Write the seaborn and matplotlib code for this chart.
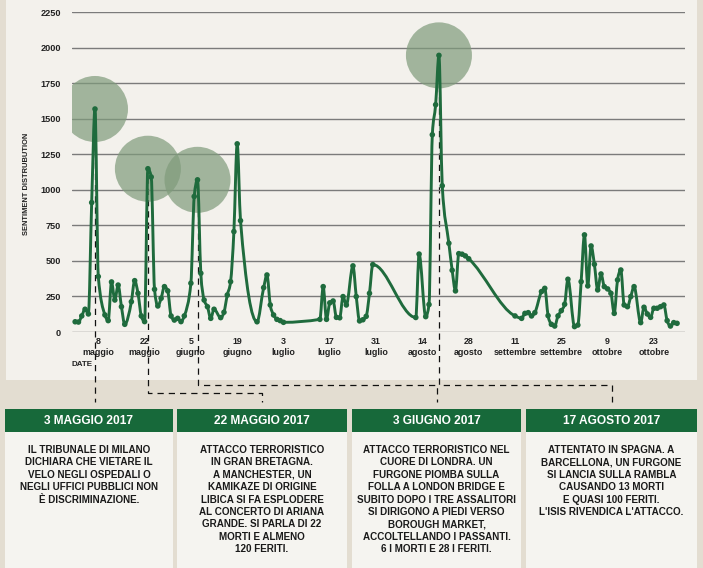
import matplotlib
matplotlib.use('Agg')
import matplotlib.pyplot as plt
import matplotlib.dates as mdates
from matplotlib.path import Path
from matplotlib.patches import PathPatch, Rectangle
import seaborn as sns
import pandas as pd
import numpy as np

# dati: giorni dal 1 maggio 2017 e valore del sentiment
start = pd.Timestamp('2017-05-01')
day_offsets = [0, 1, 2, 3, 4, 5, 6, 7, 9, 10, 11, 12, 13, 14, 15, 17, 18, 19, 20, 21,
               22, 23, 24, 25, 26, 27, 28, 29, 30, 31, 32, 33, 35, 36, 37, 38, 39, 40, 41, 42,
               44, 45, 46, 47, 48, 49, 50, 55, 57, 58, 59, 60, 61, 62, 63,
               74, 75, 76, 77, 78, 79, 80, 81, 82, 84, 85, 86, 87, 88, 89, 90,
               103, 104, 106, 107, 108, 109, 110, 111, 113, 114, 115, 116, 117, 118, 119,
               133, 135, 136, 137, 138, 139, 141, 142, 143, 144, 145, 146, 147, 148, 149,
               151, 152, 153, 154, 155, 156, 157, 158, 159, 160, 161, 162, 163, 164, 165,
               166, 167, 168, 169, 171, 172, 173, 174, 175, 176, 177, 178, 179, 180, 181, 182]
sentiment = [72, 70, 113, 160, 127, 910, 1568, 390, 120, 80, 352, 225, 330, 178, 54, 213, 361, 272, 113, 73,
             1148, 1090, 300, 183, 237, 319, 289, 113, 84, 96, 73, 113, 343, 953, 1070, 413, 225, 178, 96, 160,
             101, 139, 260, 354, 706, 1323, 783, 72, 312, 401, 190, 120, 89, 80, 68,
             89, 319, 89, 205, 218, 103, 100, 249, 190, 465, 249, 78, 86, 110, 272, 474,
             102, 548, 108, 193, 1387, 1598, 1945, 1028, 624, 434, 289, 551, 547, 535, 515,
             113, 96, 131, 136, 113, 136, 284, 307, 115, 54, 42, 113, 150, 195, 371,
             38, 49, 354, 683, 324, 605, 476, 296, 408, 319, 303, 272, 131, 366, 436,
             190, 178, 249, 319, 66, 174, 127, 103, 167, 167, 178, 190, 80, 42, 66, 61]

tick_days = [7, 21, 35, 49, 63, 77, 91, 105, 119, 133, 147, 161, 175]
tick_labels = ['8\nmaggio', '22\nmaggio', '5\ngiugno', '19\ngiugno', '3\nluglio', '17\nluglio',
               '31\nluglio', '14\nagosto', '28\nagosto', '11\nsettembre', '25\nsettembre',
               '9\nottobre', '23\nottobre']
y_ticks = [0, 250, 500, 750, 1000, 1250, 1500, 1750, 2000, 2250]

peak_days = [6, 22, 37, 110]
event_titles = ['3 MAGGIO 2017', '22 MAGGIO 2017', '3 GIUGNO 2017', '17 AGOSTO 2017']
event_texts = [
    'IL TRIBUNALE DI MILANO\nDICHIARA CHE VIETARE IL\nVELO NEGLI OSPEDALI O\n'
    'NEGLI UFFICI PUBBLICI NON\nÈ DISCRIMINAZIONE.',
    'ATTACCO TERRORISTICO\nIN GRAN BRETAGNA.\nA MANCHESTER, UN\nKAMIKAZE DI ORIGINE\n'
    'LIBICA SI FA ESPLODERE\nAL CONCERTO DI ARIANA\nGRANDE. SI PARLA DI 22\nMORTI E ALMENO\n120 FERITI.',
    'ATTACCO TERRORISTICO NEL\nCUORE DI LONDRA. UN\nFURGONE PIOMBA SULLA\nFOLLA A LONDON BRIDGE E\n'
    'SUBITO DOPO I TRE ASSALITORI\nSI DIRIGONO A PIEDI VERSO\nBOROUGH MARKET,\n'
    'ACCOLTELLANDO I PASSANTI.\n6 I MORTI E 28 I FERITI.',
    'ATTENTATO IN SPAGNA. A\nBARCELLONA, UN FURGONE\nSI LANCIA SULLA RAMBLA\nCAUSANDO 13 MORTI\n'
    'E QUASI 100 FERITI.\nL\'ISIS RIVENDICA L\'ATTACCO.',
]

GREEN = '#1f6b3d'
INK = '#222222'

sns.set_theme(style='white')
plt.rcParams['font.family'] = ['Liberation Sans', 'DejaVu Sans']

df = pd.DataFrame({'date': start + pd.to_timedelta(day_offsets, unit='D'), 'sentiment': sentiment})
peaks = df[df['date'].isin(start + pd.to_timedelta(peak_days, unit='D'))]


def monotone_path(x, y):
    # curva monotona (come d3.curveMonotoneX) passante per i punti
    x = np.asarray(x, float)
    y = np.asarray(y, float)
    h = np.diff(x)
    s = np.diff(y) / h
    m = np.empty_like(y)
    m[0], m[-1] = s[0], s[-1]
    for i in range(1, len(y) - 1):
        p = (s[i - 1] * h[i] + s[i] * h[i - 1]) / (h[i - 1] + h[i])
        m[i] = (np.sign(s[i - 1]) + np.sign(s[i])) * min(abs(s[i - 1]), abs(s[i]), 0.5 * abs(p))
    verts, codes = [(x[0], y[0])], [Path.MOVETO]
    for i in range(len(h)):
        d = h[i] / 3
        verts += [(x[i] + d, y[i] + m[i] * d), (x[i + 1] - d, y[i + 1] - m[i + 1] * d), (x[i + 1], y[i + 1])]
        codes += [Path.CURVE4] * 3
    return Path(verts, codes)


W, H = 703, 568
fig = plt.figure(figsize=(W / 100, H / 100), dpi=100)
fig.patch.set_facecolor('#e3ddd1')

bg = fig.add_axes([0, 0, 1, 1])
bg.set_xlim(0, W)
bg.set_ylim(H, 0)
bg.axis('off')
bg.set_zorder(0)
bg.add_patch(Rectangle((6, 0), 691, 380, color='#f3f1ec', lw=0))

ax = fig.add_axes([72 / W, 1 - 332 / H, (685 - 72) / W, 320 / H])
ax.set_zorder(1)
ax.set_facecolor('none')

sns.scatterplot(data=peaks, x='date', y='sentiment', s=2260, color='#7f9b7b', alpha=0.7,
                edgecolor='none', ax=ax, zorder=2)
ax.add_patch(PathPatch(monotone_path(mdates.date2num(df['date']), df['sentiment']),
                       fill=False, edgecolor=GREEN, lw=2.1, zorder=3, capstyle='round', joinstyle='round'))
sns.scatterplot(data=df, x='date', y='sentiment', s=16, color=GREEN, edgecolor='none', ax=ax, zorder=4)

ax.set_xlim(start + pd.Timedelta(days=-0.95), start + pd.Timedelta(days=184.4))
ax.set_ylim(0, 2250)
ax.set_yticks(y_ticks)
ax.set_yticklabels([str(v) for v in y_ticks], fontsize=6.6, fontweight='bold', color=INK)
ax.set_xticks(start + pd.to_timedelta(tick_days, unit='D'))
ax.set_xticklabels(tick_labels, fontsize=6.4, fontweight='bold', color=INK, linespacing=1.25)
ax.tick_params(axis='y', length=0, pad=8)
ax.tick_params(axis='x', length=0, pad=3.5)
ax.yaxis.grid(True, color='#7b7b7b', lw=1.0)
ax.xaxis.grid(False)
ax.set_axisbelow(True)
for sp in ax.spines.values():
    sp.set_visible(False)
ax.set_xlabel('')
ax.set_ylabel('')

bg.text(27, 184, 'SENTIMENT DISTRUBUTION', rotation=90, ha='center', va='center',
        fontsize=5.4, fontweight='bold', color=INK)
bg.text(72, 364.5, 'DATE', ha='left', va='center', fontsize=5.8, fontweight='bold', color=INK)

# riquadri con gli eventi
box_left = [5, 177, 352, 526]
box_width = [168, 170, 169, 171]
for left, wid, title, body in zip(box_left, box_width, event_titles, event_texts):
    bg.add_patch(Rectangle((left, 409), wid, 23, color='#17693a', lw=0))
    bg.add_patch(Rectangle((left, 432), wid, 140, color='#f5f4f0', lw=0))
    bg.text(left + wid / 2, 421, title, ha='center', va='center', color='white',
            fontsize=8.6, fontweight='bold')
    bg.text(left + wid / 2, 445, body, ha='center', va='top', color='#1a1a1a',
            fontsize=7.1, fontweight='bold', linespacing=1.3)

# linee tratteggiate dai picchi ai riquadri
bend_y = [None, 393, 385, 385]
dash = dict(color='#111111', lw=0.9, ls=(0, (5, 4)))
for day, val, left, wid, by in zip(peak_days, peaks['sentiment'], box_left, box_width, bend_y):
    px, py = ax.transData.transform((mdates.date2num(start + pd.Timedelta(days=day)), val))
    py = H - py
    cx = left + wid / 2
    if by is None:
        bg.plot([px, px], [py + 8, 402], **dash)
    else:
        bg.plot([px, px, cx, cx], [py + 8, by, by, 402], **dash)

fig.savefig('out.png', dpi=100, facecolor=fig.get_facecolor())
